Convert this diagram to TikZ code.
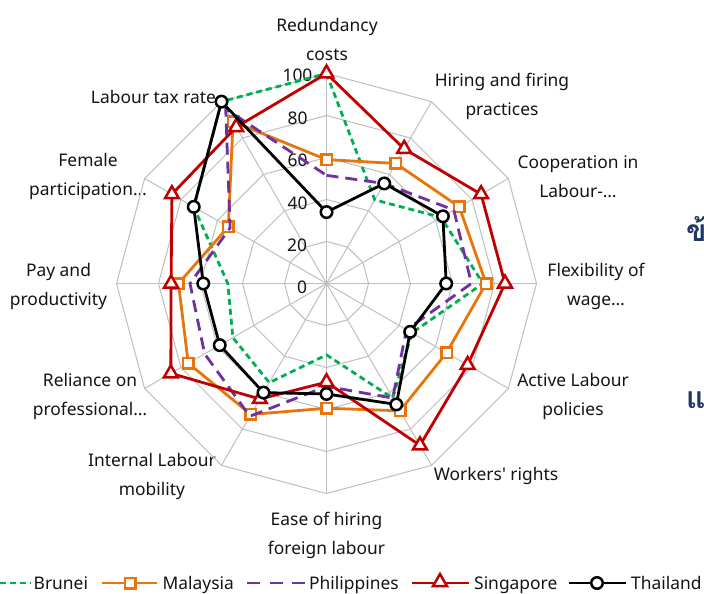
\documentclass[tikz,border=0pt]{standalone}
\usepackage{fontspec}
\setmainfont{Noto Sans}
\newfontfamily\thaifont[Script=Thai]{Loma}
\usetikzlibrary{shapes.geometric}
\definecolor{cgrid}{HTML}{BFBFBF}
\definecolor{cbru}{HTML}{00B050}
\definecolor{cmal}{HTML}{E8740C}
\definecolor{cphi}{HTML}{7030A0}
\definecolor{csin}{HTML}{C00000}
\definecolor{cthai}{HTML}{1F3864}
\newcommand\radarline[3]{\draw[#1] (-90:#2*2.1) \foreach \v [count=\i] in {#3}{ -- (30*\i-90:\v*2.1)} -- cycle;}
\newcommand\radarmarks[3]{\foreach \v [count=\i from 0] in {#3} \node[#1] (#2\i) at (30*\i-90:\v*2.1) {};}
\begin{document}
\begin{tikzpicture}[x=1bp,y=-1bp,
  lab/.style={font=\fontsize{17.4bp}{29bp}\selectfont, align=center, inner sep=0pt, text=black!92},
  tick/.style={font=\fontsize{17.4bp}{20bp}\selectfont, inner sep=0pt, text=black!92},
  gridln/.style={draw=cgrid, line width=1bp},
  sbru/.style={cbru, line width=2.8bp, dash pattern=on 6bp off 4bp},
  smal/.style={cmal, line width=2.8bp, line join=round},
  sphi/.style={cphi, line width=2.8bp, dash pattern=on 12bp off 7bp},
  ssin/.style={csin, line width=2.8bp, line join=round},
  stha/.style={black, line width=2.8bp, line join=round},
  mmal/.style={draw=cmal, fill=white, line width=2.5bp, rectangle, minimum size=10.5bp, inner sep=0pt},
  msin/.style={draw=csin, fill=white, line width=2.5bp, regular polygon, regular polygon sides=3, minimum size=16bp, inner sep=0pt},
  mtha/.style={draw=black, fill=white, line width=2.5bp, circle, minimum size=11.5bp, inner sep=0pt},
]
\useasboundingbox (0,0) rectangle (704,594);
\fill[white] (0,0) rectangle (704,594);
% labels
\node[lab] (l0) at (327,39) {Redundancy\\costs};
\node[lab] (l1) at (502,96) {Hiring and firing\\practices};
\node[lab] (l2) at (578,176.5) {Cooperation in\\Labour-\ldots};
\node[lab] (l3) at (596,286.5) {Flexibility of\\wage\ldots};
\node[lab] (l4) at (573,396) {Active Labour\\policies};
\node[lab] (l5) at (496,476) {Workers\textquotesingle{} rights};
\node[lab] (l6) at (326.5,535) {Ease of hiring\\foreign labour};
\node[lab] (l7) at (152,476) {Internal Labour\\mobility};
\node[lab] (l8) at (90,396) {Reliance on\\professional\ldots};
\node[lab] (l9) at (58.5,286.5) {Pay and\\productivity};
\node[lab] (l10) at (88,176.5) {Female\\participation\ldots};
\node[lab] (l11) at (153.5,97) {Labour tax rate};
% Thai fragments at right edge
\node[anchor=base west, inner sep=0pt, font={\fontsize{30bp}{34bp}\thaifont\bfseries}, text=cthai] (th1) at (686,241) {ข้};
\node[anchor=base west, inner sep=0pt, font={\fontsize{30bp}{34bp}\thaifont\bfseries}, text=cthai] (th2) at (686,408) {แ};
\begin{scope}[shift={(326.5,283.5)}]
  \foreach \r in {42,84,126,168,210}
    \draw[gridln] (-90:\r) \foreach \i in {1,...,11}{ -- (30*\i-90:\r)} -- cycle;
  \foreach \i in {0,...,11}
    \draw[gridln] (0,0) -- (30*\i-90:210);
\end{scope}
% tick labels
\node[tick] (t100) at (297.5,75.5) {100};
\node[tick] (t80) at (297.5,118.5) {80};
\node[tick] (t60) at (297.5,160.5) {60};
\node[tick] (t40) at (297.5,203.5) {40};
\node[tick] (t20) at (297,245.5) {20};
\node[tick] (t0) at (302,287.5) {0};
\begin{scope}[shift={(326.5,283.5)}]
  \radarline{sbru}{100}{46,63,74.5,47,63,34,54.5,51.5,47,73,100}
  \radarline{smal}{59}{66,73,76,66,70,59.4,72,76,70.5,54,89}
  \radarmarks{mmal}{mal}{59,66,73,76,66,70,59.4,72,76,70.5,54,89}
  \radarline{sphi}{51.5}{55,70,69,44,63,49,73,67,65,53,96}
  \radarline{ssin}{100}{74,85,85,77.6,89,47,63.5,85.6,74,85,86}
  \radarmarks{msin}{sin}{100,74,85,85,77.6,89,47,63.5,85.6,74,85,86}
  \radarline{stha}{34}{55,64,57,46,66.5,52.6,60,58.7,58.7,73,100}
  \radarmarks{mtha}{tha}{34,55,64,57,46,66.5,52.6,60,58.7,58.7,73,100}
\end{scope}
% legend
\coordinate (a1) at (0,583); \coordinate (b1) at (31,583);
\draw[sbru] (a1) -- (b1);
\node[lab, anchor=base west] (g1) at (33.5,589.5) {Brunei};
\coordinate (a2) at (102,583); \coordinate (b2) at (157,583);
\draw[smal] (a2) -- (b2);
\node[mmal] (k2) at (130,583) {};
\node[lab, anchor=base west] (g2) at (162.5,589.5) {Malaysia};
\coordinate (a3) at (247,583); \coordinate (b3) at (305,583);
\draw[sphi, dash pattern=on 13bp off 9.5bp] (a3) -- (b3);
\node[lab, anchor=base west] (g3) at (309,589.5) {Philippines};
\coordinate (a4) at (412,583); \coordinate (b4) at (469,583);
\draw[ssin] (a4) -- (b4);
\node[msin] (k4) at (440,582) {};
\node[lab, anchor=base west] (g4) at (474,589.5) {Singapore};
\coordinate (a5) at (569,583); \coordinate (b5) at (626,583);
\draw[stha] (a5) -- (b5);
\node[mtha] (k5) at (597,583) {};
\node[lab, anchor=base west] (g5) at (631,589.5) {Thailand};
\end{tikzpicture}
\end{document}
